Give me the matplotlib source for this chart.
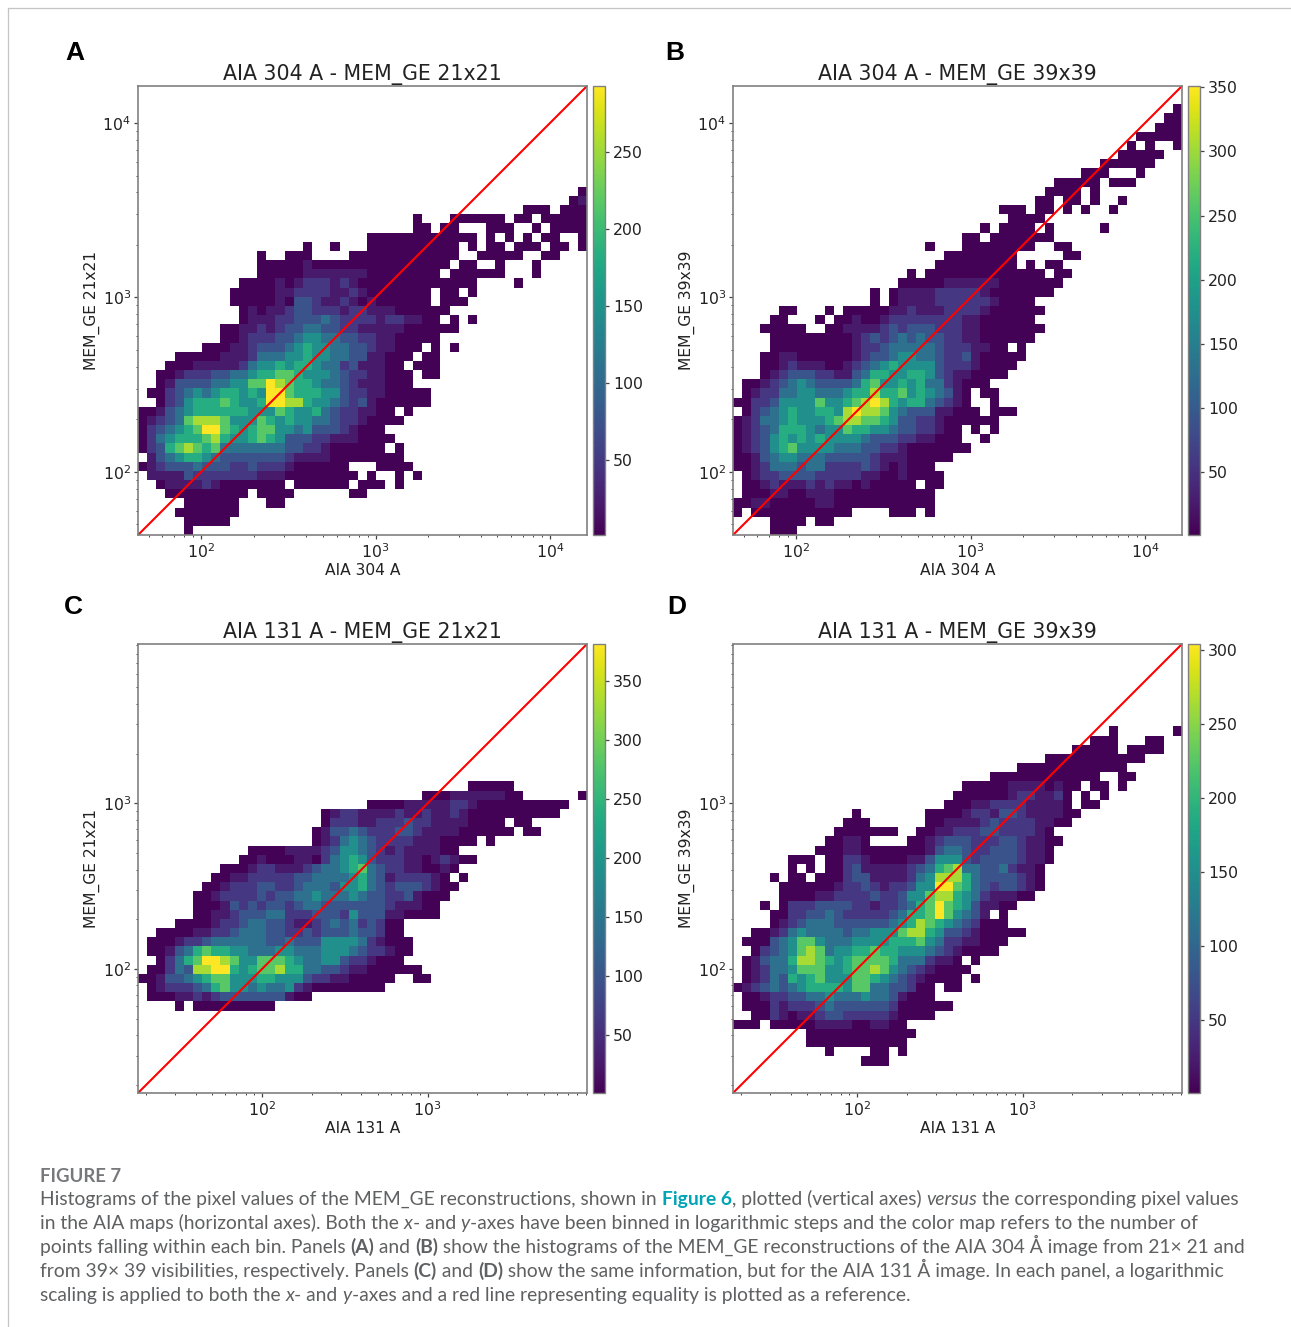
"""
pixel value histograms, AIA maps vs MEM_GE reconstructions (figure 7)
"""

import numpy as np
from matplotlib import pyplot as plt
from matplotlib.lines import Line2D

plt.rcParams["font.family"] = "DejaVu Sans"

W, H = 1291, 1327
N_BINS = 49

# each char is a count level for one bin, '.' is an empty bin, '_' is ten empty bins
# rows go from the top of the panel to the bottom
ROWS_A = [""] * 11 + [
    "_ _ _ _ ........0",
    "_ _ _ _ .......01",
    "_ _ _ _ ..000.000",
    "_ _ _ 0...000000 .00.00000",
    "_ _ _ 00.00...00 0..0.0000",
    "_ _ .....00000 0000000.0. 0.0.00..0",
    "_ ........0. .0...00000 00000.0.00 .000.00.0",
    "_ ...0..000. ...0000000 00000..000 00..00",
    "_ ...0000010 0000000000 0000.00..0 ...0",
    "_ ...0000011 1111100000 000.000000 ...0",
    "_ .000010122 2121000000 0000000... .0",
    "_ 0000011222 2112100000 00.00.0",
    "_ 0000010332 1121010000 00.000",
    "_ .010112332 2212211100 0000",
    "_ .011122333 4322221221 100.0.0",
    ".........0 0112123344 3322111110 00000",
    ".........0 0122233455 4433221100 000",
    ".......000 1123334565 5443321100 0.0.0",
    "....000001 1124445565 5443311000 .00",
    "...0001111 1245565665 442311100. 000",
    "..00122233 4456677655 5432211000 .00",
    "..01333344 5577987665 4432111000",
    ".002345456 6565997666 5532211000 00",
    "..02356667 6556998865 5432310000 00",
    "0013456666 6655576556 43221100.0",
    "0123478887 5557656554 432210000",
    "0234567997 6567755453 3321000",
    "0245666786 5567653332 21110000",
    "0236787674 4444443322 1000000.0",
    ".134566543 3333332111 100000000",
    "0123334333 2232221000 000...0000",
    ".111132222 2221110000 0000.0..0. 0",
    "..01111210 000000.000 000.000.0",
    "...0000000 00.0000... ...00",
    ".....00000 0...00",
    "....000000 0",
    ".....00000",
    ".....0",
]

ROWS_B = ["", ""] + [
    "_ _ _ _ ........0",
    "_ _ _ _ .......00",
    "_ _ _ _ ......000",
    "_ _ _ _ ....00000",
    "_ _ _ _ ...0.0..0",
    "_ _ _ _ ..00000",
    "_ _ _ _ 000000",
    "_ _ _ ........00 0...0",
    "_ _ _ .....00000 .000",
    "_ _ _ ....0000.0",
    "_ _ _ ...00.00.0 ..0",
    "_ _ .........0 00.00.0.0. .0",
    "_ _ _ 0000",
    "_ _ .......0.0 000.0..... 0",
    "_ _ .....00.00 00000",
    "_ _ .0...00000 000..00",
    "_ _ ...0000000 0.....00",
    "_ _ ..00000000 0.0.00",
    "_ .........0 .000000000 0000.00",
    "_ ........00 0001111110 000000",
    "_ .....0.011 1122222100 00000",
    "_ .....0.011 1122222210 000",
    ".....00... 0.00000112 1112222100 0000",
    "....00...0 .001001222 2222211000 000",
    "...00000.. 0011112323 3322211000 0000",
    "....000000 0001232343 4332211000 000",
    "....000000 0001223444 4432221100 .0",
    "...0011000 0001233455 4432231000 00",
    "...0012111 0012345655 5532221000 0",
    "...0123332 2113466556 6532110000",
    ".001234543 3334675565 64421000",
    ".012244554 4456686675 654310.00",
    "0022355557 5567898656 643210..0",
    ".023456556 6589887543 3311000.00 0",
    "0124456555 6788776533 221000000",
    "0123466654 5576655433 22100.0.0",
    "0123565656 5555433322 11000..0",
    "0123567555 5444332210 000000",
    "0013455444 3333321110 0000",
    "0012444344 2222321010 00",
    ".012233332 2222110010 000",
    ".001211121 2110100000 .00",
    ".000110011 1000000000 00",
    "0011000001 1000000000 00",
    "0.00000000 000....000 .0",
    "....0000.0 0",
    "....000",
]

ROWS_C = [""] * 15 + [
    "_ _ _ ......0000 0",
    "_ _ _ .000111111 00......0",
    "_ _ .....00001 1111221000 0000000",
    "_ _ 0122111121 1211210000 000000",
    "_ _ 0222112223 2211110000 .00",
    "_ .........0 1334322233 2111100000 0.00",
    "_ .........0 1245432222 1110000.0",
    "_ ..00001111 2355432121 11100",
    "_ .001000110 2456532221 1012100",
    ".........0 0012211123 4456743221 10010",
    "........00 1122222334 4445643122 2210.0",
    ".......001 2223322344 4355643233 32100",
    "......0012 2223233445 4445433223 1000",
    "......0001 3232332344 3333333211 100",
    "......0011 2333442223 3325333110 000",
    "....000012 2344332112 343423200",
    "..00001122 3444332232 333433200",
    ".000122344 4444334333 5555421000",
    ".001346766 5544455444 5554322100",
    "..02467998 7557776544 553221000",
    ".002438899 6567786644 3321100000 0",
    "0013345677 5556655532 21100000.. 00",
    ".012223467 5545445210 0000000",
    ".000112123 333333100",
    "....0.0000 00000",
]

ROWS_D = [""] * 9 + [
    "_ _ _ _ .0......0",
    "_ _ _ .........0 00...00",
    "_ _ _ .......000 00.0000",
    "_ _ _ ....000000 00000",
    "_ _ _ .000000000 000",
    "_ _ ........00 0000000000 ..00",
    "_ _ .....00000 1111010 0.0 0.0",
    "_ _ ....000000 1221120.0. 0",
    "_ _ ...0001122 2211110.00",
    "_ ...0...... .000012213 32111100",
    "_ ..000..... .001111232 2221100",
    "_ .0000000.. 0011222332 22210",
    "_ 00110....0 0123332223 321100",
    ".........0 0011000000 0134432233 32110",
    "......000. 0022100001 1355532333 32110",
    "......0.0. 0023111112 3467844334 2110",
    "....0.00.0 0023311112 4588864333 3210",
    ".....00000 0122321223 5599764323 3210",
    ".....00001 1222232235 5788654211 100",
    "...0.02223 3332212234 6797653110 0",
    "....002233 4322222346 67975431.0",
    "....012344 4333333456 8765432000",
    "..00124544 4434455578 8653321000 00",
    ".000345775 4445555666 7542211000",
    "..02345787 4556676655 543210000",
    ".013446887 6567777644 42110.0",
    ".012445777 5567787543 210000",
    ".012436567 5557765432 10000.0",
    "0123434566 6657744332 00.00",
    ".001223344 5444544310 00",
    ".000212223 4333333200 0000",
    "..00210112 3322222100 00",
    "000.000001 111001100",
    "........00 0000000000",
    "........00 000000000",
    "_ 0....00.0",
    "_ ....000",
]

# fraction of the colorbar range for each level
LEVEL_FRAC = [0.01, 0.07, 0.16, 0.26, 0.37, 0.5, 0.62, 0.74, 0.87, 1.0]

TITLES = [
    "AIA 304 A - MEM_GE 21x21",
    "AIA 304 A - MEM_GE 39x39",
    "AIA 131 A - MEM_GE 21x21",
    "AIA 131 A - MEM_GE 39x39",
]
XLABELS = ["AIA 304 A", "AIA 304 A", "AIA 131 A", "AIA 131 A"]
YLABELS = ["MEM_GE 21x21", "MEM_GE 39x39", "MEM_GE 21x21", "MEM_GE 39x39"]
LETTERS = ["A", "B", "C", "D"]
LETTER_X = [65, 665, 64, 667]
LETTER_Y = [53, 53, 607, 607]
VMAX = [293, 351, 381, 304]
LOW = [43.5, 43.5, 18.0, 18.0]
HIGH = [16300, 16300, 9140, 9140]
ALL_ROWS = [ROWS_A, ROWS_B, ROWS_C, ROWS_D]

# left, top, right, bottom in pixels
BOXES = [(138, 86, 587, 535), (733, 86, 1182, 535), (138, 644, 587, 1093), (733, 644, 1182, 1093)]

CAPTION_HEAD = "FIGURE 7"
# r regular, b bold, i italic, l link
CAPTION = [
    [("r", "Histograms of the pixel values of the MEM_GE reconstructions, shown in "), ("l", "Figure 6"),
     ("r", ", plotted (vertical axes) "), ("i", "versus"), ("r", " the corresponding pixel values")],
    [("r", "in the AIA maps (horizontal axes). Both the "), ("i", "x"), ("r", "- and "), ("i", "y"),
     ("r", "-axes have been binned in logarithmic steps and the color map refers to the number of")],
    [("r", "points falling within each bin. Panels "), ("b", "(A)"), ("r", " and "), ("b", "(B)"),
     ("r", " show the histograms of the MEM_GE reconstructions of the AIA 304 Å image from 21× 21 and")],
    [("r", "from 39× 39 visibilities, respectively. Panels "), ("b", "(C)"), ("r", " and "), ("b", "(D)"),
     ("r", " show the same information, but for the AIA 131 Å image. In each panel, a logarithmic")],
    [("r", "scaling is applied to both the "), ("i", "x"), ("r", "- and "), ("i", "y"),
     ("r", "-axes and a red line representing equality is plotted as a reference.")],
]


def pixel_box(left, top, right, bottom):
    return [left / W, 1 - bottom / H, (right - left) / W, (bottom - top) / H]


def rows_to_counts(rows, vmax):
    counts = np.full((N_BINS, N_BINS), np.nan)
    for i, row in enumerate(rows):
        text = row.replace("_", "." * 10).replace(" ", "")
        for j, char in enumerate(text[:N_BINS]):
            if char != ".":
                counts[N_BINS - 1 - i, j] = max(1.0, LEVEL_FRAC[int(char)] * vmax)
    return counts


fig = plt.figure(figsize=(W / 100, H / 100), dpi=100)

for k in range(4):
    left, top, right, bottom = BOXES[k]
    ax = fig.add_axes(pixel_box(left, top, right, bottom))
    cax = fig.add_axes(pixel_box(right + 6, top, right + 18, bottom))

    edges = np.logspace(np.log10(LOW[k]), np.log10(HIGH[k]), N_BINS + 1)
    mesh = ax.pcolormesh(edges, edges, rows_to_counts(ALL_ROWS[k], VMAX[k]), cmap="viridis", vmin=1, vmax=VMAX[k])
    ax.plot([LOW[k], HIGH[k]], [LOW[k], HIGH[k]], color="red", lw=1.5)
    ax.set_xscale("log")
    ax.set_yscale("log")
    ax.set_xlim(LOW[k], HIGH[k])
    ax.set_ylim(LOW[k], HIGH[k])
    ax.set_title(TITLES[k], fontsize=14.8, pad=4.5, color="#222222")
    ax.set_xlabel(XLABELS[k], fontsize=11.2, color="#222222", labelpad=1.5)
    ax.set_ylabel(YLABELS[k], fontsize=11.2, color="#222222", labelpad=2)
    ax.tick_params(which="major", length=2.7, pad=2.4, colors="#444444", labelcolor="#222222", labelsize=11.3, width=0.9)
    ax.tick_params(which="minor", length=1.6, colors="#444444", width=0.7)
    for spine in ax.spines.values():
        spine.set_color("#808080")
        spine.set_linewidth(1.2)

    cbar = fig.colorbar(mesh, cax=cax)
    cbar.set_ticks(np.arange(50, VMAX[k], 50))
    cbar.ax.tick_params(length=3, pad=2.8, colors="#444444", labelcolor="#222222", labelsize=11.3, width=0.9)
    cbar.outline.set_edgecolor("#808080")
    cbar.outline.set_linewidth(1.0)

    fig.text(LETTER_X[k] / W, 1 - LETTER_Y[k] / H, LETTERS[k], fontsize=19, fontweight="bold",
             family="Liberation Sans", color="black", va="center", ha="left")

# page frame of the article
fig.add_artist(Line2D([8 / W, 8 / W], [0, 1 - 8 / H], color="#c4c4c4", lw=0.9))
fig.add_artist(Line2D([8 / W, 1], [1 - 8 / H, 1 - 8 / H], color="#c4c4c4", lw=0.9))

# caption, one run of text after the other
renderer = fig.canvas.get_renderer()
STYLES = {
    "r": dict(color="#5f6062"),
    "i": dict(color="#5f6062", style="italic"),
    "b": dict(color="#5f6062", fontweight="bold"),
    "l": dict(color="#00a5b5", fontweight="bold"),
}
CAP_SIZE = 13.9


def run_width(text, style):
    # a bar at the end keeps the trailing spaces in the measure
    t1 = fig.text(0, 0, text + "|", family="Lato", fontsize=CAP_SIZE, **STYLES[style])
    t2 = fig.text(0, 0, "|", family="Lato", fontsize=CAP_SIZE, **STYLES[style])
    width = t1.get_window_extent(renderer).width - t2.get_window_extent(renderer).width
    t1.remove()
    t2.remove()
    return width


fig.text(40 / W, 1 - 1176 / H, CAPTION_HEAD, family="Lato", fontsize=13.3, fontweight="bold",
         color="#77787b", va="center")
for n, line in enumerate(CAPTION):
    x = 40
    y = 1205 + 24 * n
    for style, text in line:
        fig.text(x / W, 1 - y / H, text, family="Lato", fontsize=CAP_SIZE, va="baseline", **STYLES[style])
        x += run_width(text, style)

fig.savefig("out.png", dpi=100, facecolor="white")
